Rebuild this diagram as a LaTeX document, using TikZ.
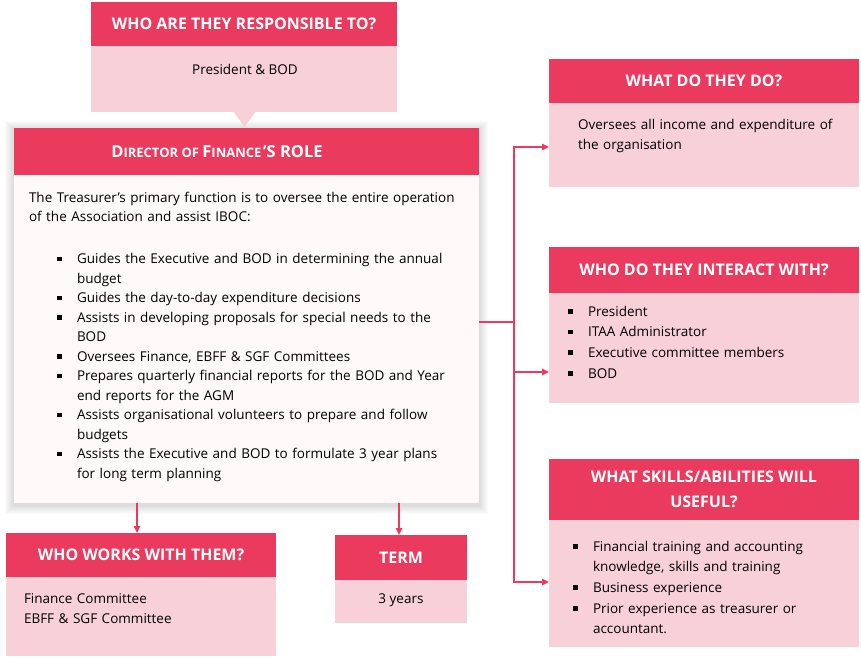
\documentclass[tikz,border=0pt]{standalone}
\usepackage{fontspec}
\setmainfont{Open Sans}
\usetikzlibrary{arrows.meta}
\definecolor{hdr}{HTML}{EA3A5E}
\definecolor{bdy}{HTML}{F8D0D8}
\definecolor{mbdy}{HTML}{FFF9F9}
\newcommand{\bul}{\makebox[20pt][l]{\rule[2.5pt]{4.5pt}{4.5pt}}}
\newcommand{\ind}{\hspace*{20pt}}
\newcommand{\bigc}{\fontsize{16.5}{18}\selectfont}
\newcommand{\smlc}{\fontsize{13}{18}\selectfont}
\tikzset{
  every node/.style={inner sep=0pt, outer sep=0pt},
  box/.style={anchor=north west, draw=none},
  hdrbox/.style={box, fill=hdr, text=white, align=center, font=\fontsize{16}{25}\selectfont\bfseries},
  bodybox/.style={box, fill=bdy},
  txt/.style={anchor=base west, text width=#1, align=left, font=\fontsize{13.5}{20.7}\selectfont},
  mtxt/.style={anchor=base west, text width=#1, align=left, font=\fontsize{13.5}{19.5}\selectfont},
  ctxt/.style={anchor=base, font=\fontsize{13.5}{20}\selectfont},
  conn/.style={draw=hdr, line width=1.6pt, -{Triangle[length=7pt,width=6.5pt]}},
  plain/.style={draw=hdr, line width=1.6pt}
}
\begin{document}
\begin{tikzpicture}[x=1pt,y=-1pt]
\useasboundingbox (0,0) rectangle (861,658);
% soft shadow of the main box
\foreach \i in {1,...,9}{
  \fill[black, opacity=0.016] (14-\i,128-\i+2) rectangle (479+\i,503+\i+2);
}
% top box
\node[hdrbox, minimum width=306pt, minimum height=44pt] (th) at (91,2) {WHO ARE THEY RESPONSIBLE TO?};
\node[bodybox, minimum width=306pt, minimum height=66pt] (tb) at (91,46) {};
\fill[bdy] (233,111) -- (256,111) -- (244.5,127) -- cycle;
\node[ctxt] (tt) at (245,75) {President \& BOD};
% main box
\node[box, fill=hdr, minimum width=465pt, minimum height=47pt] (mh) at (14,128) {};
\node[text=white, font=\bfseries] (mt) at (217,152) {{\bigc D}{\smlc IRECTOR OF }{\bigc F}{\smlc INANCE}\,{\bigc ’S ROLE}};
\node[box, fill=mbdy, minimum width=465pt, minimum height=328pt] (mb) at (14,175) {};
\node[mtxt=500pt] (mtext) at (29,202) {The Treasurer’s primary function is to oversee the entire operation\\
of the Association and assist IBOC:\\[22.5pt]
\hspace*{28pt}\bul Guides the Executive and BOD in determining the annual\\
\hspace*{28pt}\ind budget\\
\hspace*{28pt}\bul Guides the day-to-day expenditure decisions\\
\hspace*{28pt}\bul Assists in developing proposals for special needs to the\\
\hspace*{28pt}\ind BOD\\
\hspace*{28pt}\bul Oversees Finance, EBFF \& SGF Committees\\
\hspace*{28pt}\bul Prepares quarterly financial reports for the BOD and Year\\
\hspace*{28pt}\ind end reports for the AGM\\
\hspace*{28pt}\bul Assists organisational volunteers to prepare and follow\\
\hspace*{28pt}\ind budgets\\
\hspace*{28pt}\bul Assists the Executive and BOD to formulate 3 year plans\\
\hspace*{28pt}\ind for long term planning};
% right box 1
\node[hdrbox, minimum width=310pt, minimum height=44pt] (r1h) at (549,59) {WHAT DO THEY DO?};
\node[bodybox, minimum width=310pt, minimum height=84pt] (r1b) at (549,103) {};
\node[txt=300pt] (r1t) at (578,129) {Oversees all income and expenditure of\\the organisation};
% right box 2
\node[hdrbox, minimum width=310pt, minimum height=46pt] (r2h) at (549,247) {WHO DO THEY INTERACT WITH?};
\node[bodybox, minimum width=310pt, minimum height=110pt] (r2b) at (549,293) {};
\node[txt=300pt] (r2t) at (568,316) {\bul President\\\bul ITAA Administrator\\\bul Executive committee members\\\bul BOD};
% right box 3
\node[hdrbox, minimum width=310pt, minimum height=61pt] (r3h) at (549,459) {WHAT SKILLS/ABILITIES WILL\\USEFUL?};
\node[bodybox, minimum width=310pt, minimum height=127pt] (r3b) at (549,520) {};
\node[txt=300pt] (r3t) at (573,551) {\bul Financial training and accounting\\\ind knowledge, skills and training\\\bul Business experience\\\bul Prior experience as treasurer or\\\ind accountant.};
% bottom left
\node[hdrbox, minimum width=270pt, minimum height=44pt] (lh) at (6,533) {WHO WORKS WITH THEM?};
\node[bodybox, minimum width=270pt, minimum height=79pt] (lb) at (6,577) {};
\node[txt=250pt] (lt) at (24,603) {Finance Committee\\EBFF \& SGF Committee};
% term
\node[hdrbox, minimum width=132pt, minimum height=45pt] (trh) at (335,535) {TERM};
\node[bodybox, minimum width=132pt, minimum height=43pt] (trb) at (335,580) {};
\node[ctxt] (trt) at (401,603) {3 years};
% connectors
\coordinate (j) at (514,322);
\draw[plain] (mb.east |- j) -- (j);
\draw[conn] (j) |- ([yshift=-2pt]r1b.west);
\draw[conn] (j) |- ([yshift=-24pt]r2b.west);
\draw[conn] (j) |- ([yshift=1.5pt]r3b.west);
\path ([xshift=-4pt]lh.north) coordinate (lha);
\draw[conn] (lha |- mb.south) -- (lha);
\path ([xshift=-2pt]trh.north) coordinate (tra);
\draw[conn] (tra |- mb.south) -- (tra);
\end{tikzpicture}
\end{document}
